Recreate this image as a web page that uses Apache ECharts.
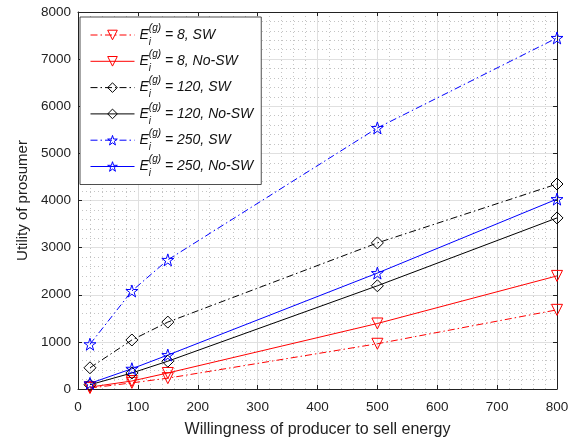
<!DOCTYPE html>
<html><head><meta charset="utf-8">
<script src="https://cdn.jsdelivr.net/npm/echarts@6/dist/echarts.min.js"></script>
<style>html,body{margin:0;padding:0;background:#fff}#c{width:568px;height:437px}</style>
</head><body><div id="c"></div>
<script>
const xValues = [20, 90, 150, 500, 800];
const red_SW = [20, 130, 230, 960, 1680];
const red_NoSW = [40, 170, 340, 1390, 2400];
const black_SW = [450, 1040, 1420, 3100, 4350];
const black_NoSW = [90, 340, 590, 2190, 3630];
const blue_SW = [950, 2080, 2740, 5540, 7450];
const blue_NoSW = [120, 430, 720, 2460, 4030];
const seriesNames = ['8, SW', '8, No-SW', '120, SW', '120, No-SW', '250, SW', '250, No-SW'];

const star = 'path://M50,2 L61,36 L97,36 L68,57 L79,92 L50,71 L21,92 L32,57 L3,36 L39,36 Z';
const dashDot = [7, 3, 1.5, 3];
const colors = ['#ff0000','#ff0000','#000000','#000000','#0000ff','#0000ff'];
const dashedFlags = [true, false, true, false, true, false];
function pairs(ys){ return xValues.map((x,i)=>[x, ys[i]]); }
function mk(name, ys, color, dashed, symbol, size, rot){
  return {
    name, type:'line', data: pairs(ys), symbol, symbolSize: size, symbolRotate: rot||0,
    showAllSymbol: true, z: 3,
    lineStyle:{color, width:1, type: dashed ? dashDot : 'solid'},
    itemStyle:{color:'rgba(255,255,255,0)', borderColor: color, borderWidth:1},
    emphasis:{disabled:true}
  };
}
const font = '"Liberation Sans", Arial, sans-serif';
const chart = echarts.init(document.getElementById('c'), null, {renderer:'canvas'});
const gridLine = {show:true, lineStyle:{color:'#e0e0e0', width:1}};
const minorLine = {show:true, lineStyle:{color:'#c4c4c4', width:1, type:[1,3]}};
chart.setOption({
  animation:false,
  backgroundColor:'#fff',
  grid:{left:78, right:11, top:12, bottom:48, containLabel:false, outerBoundsMode:'none'},
  legend:{
    left:80, top:17, orient:'vertical', padding:[6,8,6,10],
    backgroundColor:'#fff', borderColor:'#222', borderWidth:0.8,
    itemWidth:44, itemHeight:12, itemGap:2.3,
    selectedMode:false,
    data: seriesNames.map((n,k)=>({
      name:n,
      itemStyle:{color:'rgba(255,255,255,0)', borderColor:colors[k], borderWidth:1},
      lineStyle:{color:colors[k], width:1, type: dashedFlags[k] ? dashDot : 'solid'}
    })),
    formatter: n => '{e|E}{i|i}{g|(g)}{t| = ' + n + '}',
    textStyle:{
      fontFamily: font, color:'#111',
      rich:{
        e:{fontSize:14, fontStyle:'italic', lineHeight:24, verticalAlign:'middle', fontFamily:font, color:'#111'},
        i:{fontSize:10, fontStyle:'italic', lineHeight:10, width:0, verticalAlign:'bottom', fontFamily:font, color:'#111'},
        g:{fontSize:10, fontStyle:'italic', lineHeight:10, verticalAlign:'top', fontFamily:font, color:'#111'},
        t:{fontSize:14, fontStyle:'italic', lineHeight:24, verticalAlign:'middle', fontFamily:font, color:'#111'}
      }
    }
  },
  xAxis:[{
    type:'value', min:0, max:800, interval:100,
    name:'Willingness of producer to sell energy', nameLocation:'middle', nameGap:33,
    nameTextStyle:{fontFamily:font, fontSize:16, color:'#222'},
    axisLine:{show:true, onZero:false, lineStyle:{color:'#222', width:1}},
    axisTick:{show:true, inside:true, length:4, lineStyle:{color:'#222'}},
    axisLabel:{fontFamily:font, fontSize:13.5, color:'#222', margin:11},
    splitLine:gridLine,
    minorTick:{show:true, splitNumber:5, length:0, lineStyle:{width:0}},
    minorSplitLine:minorLine
  },{
    type:'value', min:0, max:800, interval:100, position:'top',
    axisLine:{show:true, onZero:false, lineStyle:{color:'#222', width:1}},
    axisTick:{show:true, inside:true, length:4, lineStyle:{color:'#222'}},
    axisLabel:{show:false}, splitLine:{show:false}
  }],
  yAxis:[{
    type:'value', min:0, max:8000, interval:1000,
    name:'Utility of prosumer', nameLocation:'middle', nameGap:48,
    nameTextStyle:{fontFamily:font, fontSize:15, color:'#222'},
    axisLine:{show:true, onZero:false, lineStyle:{color:'#222', width:1}},
    axisTick:{show:true, inside:true, length:4, lineStyle:{color:'#222'}},
    axisLabel:{fontFamily:font, fontSize:13.5, color:'#222', margin:7, formatter: v => String(v)},
    splitLine:gridLine,
    minorTick:{show:true, splitNumber:5, length:0, lineStyle:{width:0}},
    minorSplitLine:minorLine
  },{
    type:'value', min:0, max:8000, interval:1000, position:'right',
    axisLine:{show:true, onZero:false, lineStyle:{color:'#222', width:1}},
    axisTick:{show:true, inside:true, length:4, lineStyle:{color:'#222'}},
    axisLabel:{show:false}, splitLine:{show:false}
  }],
  series:[
    mk(seriesNames[0], red_SW, colors[0], dashedFlags[0], 'triangle', 11, 180),
    mk(seriesNames[1], red_NoSW, colors[1], dashedFlags[1], 'triangle', 11, 180),
    mk(seriesNames[2], black_SW, colors[2], dashedFlags[2], 'diamond', 12),
    mk(seriesNames[3], black_NoSW, colors[3], dashedFlags[3], 'diamond', 12),
    mk(seriesNames[4], blue_SW, colors[4], dashedFlags[4], star, 12),
    mk(seriesNames[5], blue_NoSW, colors[5], dashedFlags[5], star, 12)
  ]
});
</script></body></html>
